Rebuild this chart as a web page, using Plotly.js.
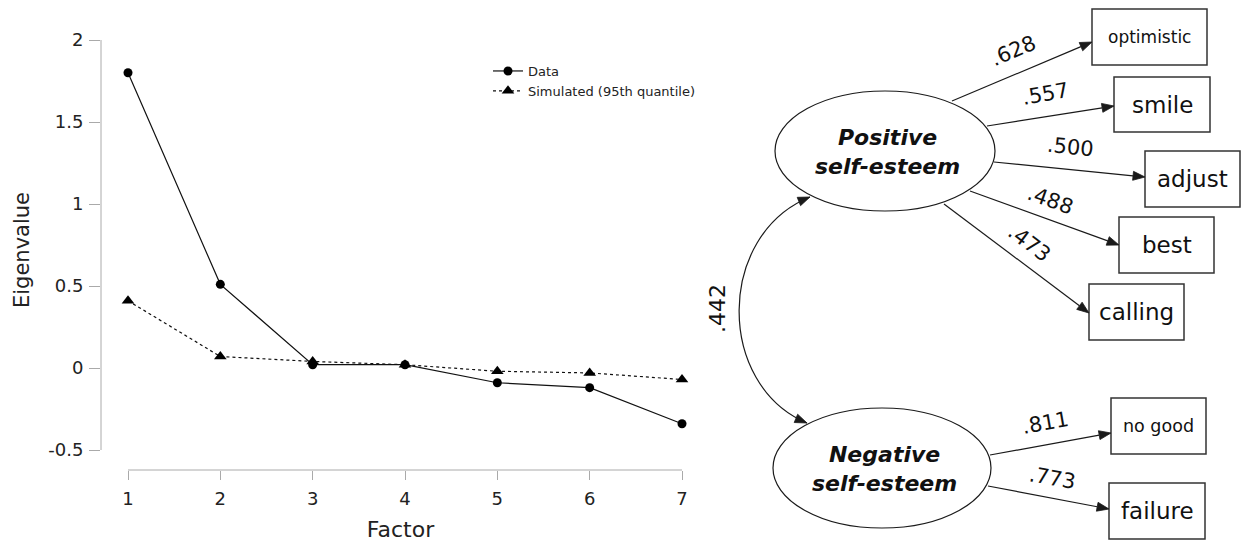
<!DOCTYPE html>
<html>
<head>
<meta charset="utf-8">
<script src="https://cdn.plot.ly/plotly-3.0.1.min.js"></script>
<style>
html,body{margin:0;padding:0;background:#fff;}
#chart{width:1245px;height:548px;}
</style>
</head>
<body>
<div id="chart"></div>
<script>
// ---------- data ----------
const factors = [1, 2, 3, 4, 5, 6, 7];
const dataEigen = [1.80, 0.51, 0.02, 0.02, -0.09, -0.12, -0.34];
const simEigen = [0.41, 0.07, 0.04, 0.02, -0.02, -0.03, -0.07];
const seriesNames = ['Data', 'Simulated (95th quantile)'];
const yTickVals = [-0.5, 0, 0.5, 1, 1.5, 2];
const yTickText = ['-0.5', '0', '0.5', '1', '1.5', '2'];
const xTitle = 'Factor';
const yTitle = 'Eigenvalue';

// path diagram content
const posFactor = ['Positive', 'self-esteem'];
const negFactor = ['Negative', 'self-esteem'];
const posItems = ['optimistic', 'smile', 'adjust', 'best', 'calling'];
const posLoadings = ['.628', '.557', '.500', '.488', '.473'];
const negItems = ['no good', 'failure'];
const negLoadings = ['.811', '.773'];
const factorCorr = '.442';

// ---------- geometry (pixels of the 1245x548 page) ----------
const W = 1245, H = 548;
const PL = 101, PR = 700, PT = 30, PB = 470;       // scree plot area
const xPix1 = 128, xPix7 = 682, yPix0 = 368, yPixPerUnit = 164;
const xPerUnit = (xPix7 - xPix1) / 6;
const xRange = [1 - (xPix1 - PL) / xPerUnit, 7 + (PR - xPix7) / xPerUnit];
const yRange = [-(PB - yPix0) / yPixPerUnit, (yPix0 - PT) / yPixPerUnit];

function px(x) { return (x - PL) / (PR - PL); }
function py(y) { return (PB - y) / (PB - PT); }

const posEll = {cx: 885, cy: 151, rx: 110, ry: 60};
const negEll = {cx: 882, cy: 468, rx: 109, ry: 60};
const posBoxes = [[1092, 9, 1207, 65], [1114, 77, 1210, 132], [1145, 151, 1240, 207], [1119, 217, 1214, 273], [1089, 284, 1184, 340]];
const posBoxFont = [17, 23, 23, 23, 23];
const negBoxes = [[1111, 398, 1206, 454], [1109, 483, 1205, 539]];
const negBoxFont = [17.5, 23];
const posArrows = [[952, 101, 1092, 42], [987, 126, 1114, 106], [994, 162, 1145, 177], [970, 191, 1119, 245], [944, 204, 1089, 313]];
const negArrows = [[990, 455, 1111, 433], [988, 486, 1109, 509]];
const posLabelPos = [[1013, 51, -23], [1045, 94, -10], [1070, 147, 6], [1050, 200, 20], [1029, 243, 37]];
const negLabelPos = [[1045, 423, -10], [1052, 478, 10]];
const curve = [[810, 197], [716, 235], [716, 385], [807, 423]];

const INK = '#1a1a1a';
const shapes = [];
const annotations = [];

// scree-plot axis lines (R style, spanning the tick range only)
shapes.push({type: 'line', xref: 'paper', yref: 'y', x0: 0, x1: 0,
  y0: yTickVals[0], y1: yTickVals[yTickVals.length - 1], line: {color: '#aaa', width: 1}});
shapes.push({type: 'line', xref: 'x', yref: 'paper', y0: 0, y1: 0,
  x0: factors[0], x1: factors[factors.length - 1], line: {color: '#aaa', width: 1}});

function headPath(tx, ty, dx, dy, len, hw) {
  const d = Math.hypot(dx, dy), ux = dx / d, uy = dy / d;
  const bx = tx - ux * len, by = ty - uy * len;
  const nx = -uy * hw, ny = ux * hw;
  return {path: `M ${px(tx)} ${py(ty)} L ${px(bx + nx)} ${py(by + ny)} L ${px(bx - nx)} ${py(by - ny)} Z`, bx, by};
}
function addArrow(a) {
  const [x0, y0, x1, y1] = a;
  const h = headPath(x1, y1, x1 - x0, y1 - y0, 12, 4.5);
  shapes.push({type: 'line', xref: 'paper', yref: 'paper', x0: px(x0), y0: py(y0), x1: px(h.bx), y1: py(h.by),
    line: {color: INK, width: 1.2}});
  shapes.push({type: 'path', xref: 'paper', yref: 'paper', path: h.path, fillcolor: INK, line: {color: INK, width: 0.8}});
}
function addEllipse(e, lines) {
  shapes.push({type: 'circle', xref: 'paper', yref: 'paper',
    x0: px(e.cx - e.rx), x1: px(e.cx + e.rx), y0: py(e.cy + e.ry), y1: py(e.cy - e.ry),
    line: {color: INK, width: 1.2}, fillcolor: 'rgba(0,0,0,0)'});
  annotations.push({xref: 'paper', yref: 'paper', x: px(e.cx + 2), y: py(e.cy + 1), showarrow: false,
    text: lines.map(s => '<b><i>' + s + '</i></b>').join('<br>'),
    font: {family: 'DejaVu Sans', size: 22, color: '#111'}, xanchor: 'center', yanchor: 'middle'});
}
function addBox(b, label, size) {
  shapes.push({type: 'rect', xref: 'paper', yref: 'paper', x0: px(b[0]), x1: px(b[2]), y0: py(b[3]), y1: py(b[1]),
    line: {color: '#333', width: 1.5}, fillcolor: 'rgba(0,0,0,0)'});
  annotations.push({xref: 'paper', yref: 'paper', x: px((b[0] + b[2]) / 2), y: py((b[1] + b[3]) / 2), showarrow: false,
    text: label, font: {family: 'DejaVu Sans', size: size, color: '#111'}, xanchor: 'center', yanchor: 'middle'});
}
function addLabel(p, txt, size) {
  annotations.push({xref: 'paper', yref: 'paper', x: px(p[0]), y: py(p[1]), showarrow: false, text: txt,
    textangle: p[2], font: {family: 'DejaVu Sans', size: size || 21, color: '#111'}, xanchor: 'center', yanchor: 'middle'});
}

addEllipse(posEll, posFactor);
addEllipse(negEll, negFactor);
posItems.forEach((t, i) => addBox(posBoxes[i], t, posBoxFont[i]));
negItems.forEach((t, i) => addBox(negBoxes[i], t, negBoxFont[i]));
posArrows.forEach(addArrow);
negArrows.forEach(addArrow);
posLoadings.forEach((t, i) => addLabel(posLabelPos[i], t));
negLoadings.forEach((t, i) => addLabel(negLabelPos[i], t));

// curved double-headed correlation arrow
(function () {
  const [p0, p1, p2, p3] = curve;
  const h0 = headPath(p0[0], p0[1], p0[0] - p1[0], p0[1] - p1[1], 12, 4.5);
  const h3 = headPath(p3[0], p3[1], p3[0] - p2[0], p3[1] - p2[1], 12, 4.5);
  shapes.push({type: 'path', xref: 'paper', yref: 'paper',
    path: `M ${px(p0[0])} ${py(p0[1])} C ${px(p1[0])} ${py(p1[1])} ${px(p2[0])} ${py(p2[1])} ${px(p3[0])} ${py(p3[1])}`,
    line: {color: INK, width: 1.2}});
  shapes.push({type: 'path', xref: 'paper', yref: 'paper', path: h0.path, fillcolor: INK, line: {color: INK, width: 0.8}});
  shapes.push({type: 'path', xref: 'paper', yref: 'paper', path: h3.path, fillcolor: INK, line: {color: INK, width: 0.8}});
})();
addLabel([717, 309, -90], factorCorr, 22);

const traces = [
  {x: factors, y: dataEigen, name: seriesNames[0], type: 'scatter', mode: 'lines+markers',
   line: {color: '#111', width: 1.2}, marker: {symbol: 'circle', size: 9, color: '#000'}},
  {x: factors, y: simEigen, name: seriesNames[1], type: 'scatter', mode: 'lines+markers',
   line: {color: '#111', width: 1.2, dash: 'dot'}, marker: {symbol: 'triangle-up', size: 11, color: '#000'}}
];

const layout = {
  width: W, height: H,
  margin: {l: PL, r: W - PR, t: PT, b: H - PB, pad: 0},
  paper_bgcolor: '#fff', plot_bgcolor: '#fff',
  font: {family: 'DejaVu Sans', color: '#222'},
  hovermode: false,
  showlegend: true,
  legend: {x: px(488), xanchor: 'left', y: py(56), yanchor: 'top',
    font: {size: 13, color: '#222'}, bgcolor: 'rgba(0,0,0,0)', itemwidth: 30},
  xaxis: {range: xRange, tickvals: factors, ticks: 'outside', ticklen: 9, tickwidth: 1, tickcolor: '#aaa',
    showline: false, showgrid: false, zeroline: false, tickfont: {size: 18, color: '#222'}, ticklabelstandoff: 3,
    title: {text: xTitle, font: {size: 22, color: '#222'}, standoff: 14}},
  yaxis: {range: yRange, tickvals: yTickVals, ticktext: yTickText, ticks: 'outside', ticklen: 11, tickwidth: 1,
    tickcolor: '#aaa', showline: false, showgrid: false, zeroline: false, tickfont: {size: 18, color: '#222'},
    ticklabelstandoff: 2,
    title: {text: yTitle, font: {size: 21, color: '#222'}, standoff: 12}},
  shapes: shapes,
  annotations: annotations
};

Plotly.newPlot('chart', traces, layout, {staticPlot: true, displayModeBar: false});
</script>
</body>
</html>
